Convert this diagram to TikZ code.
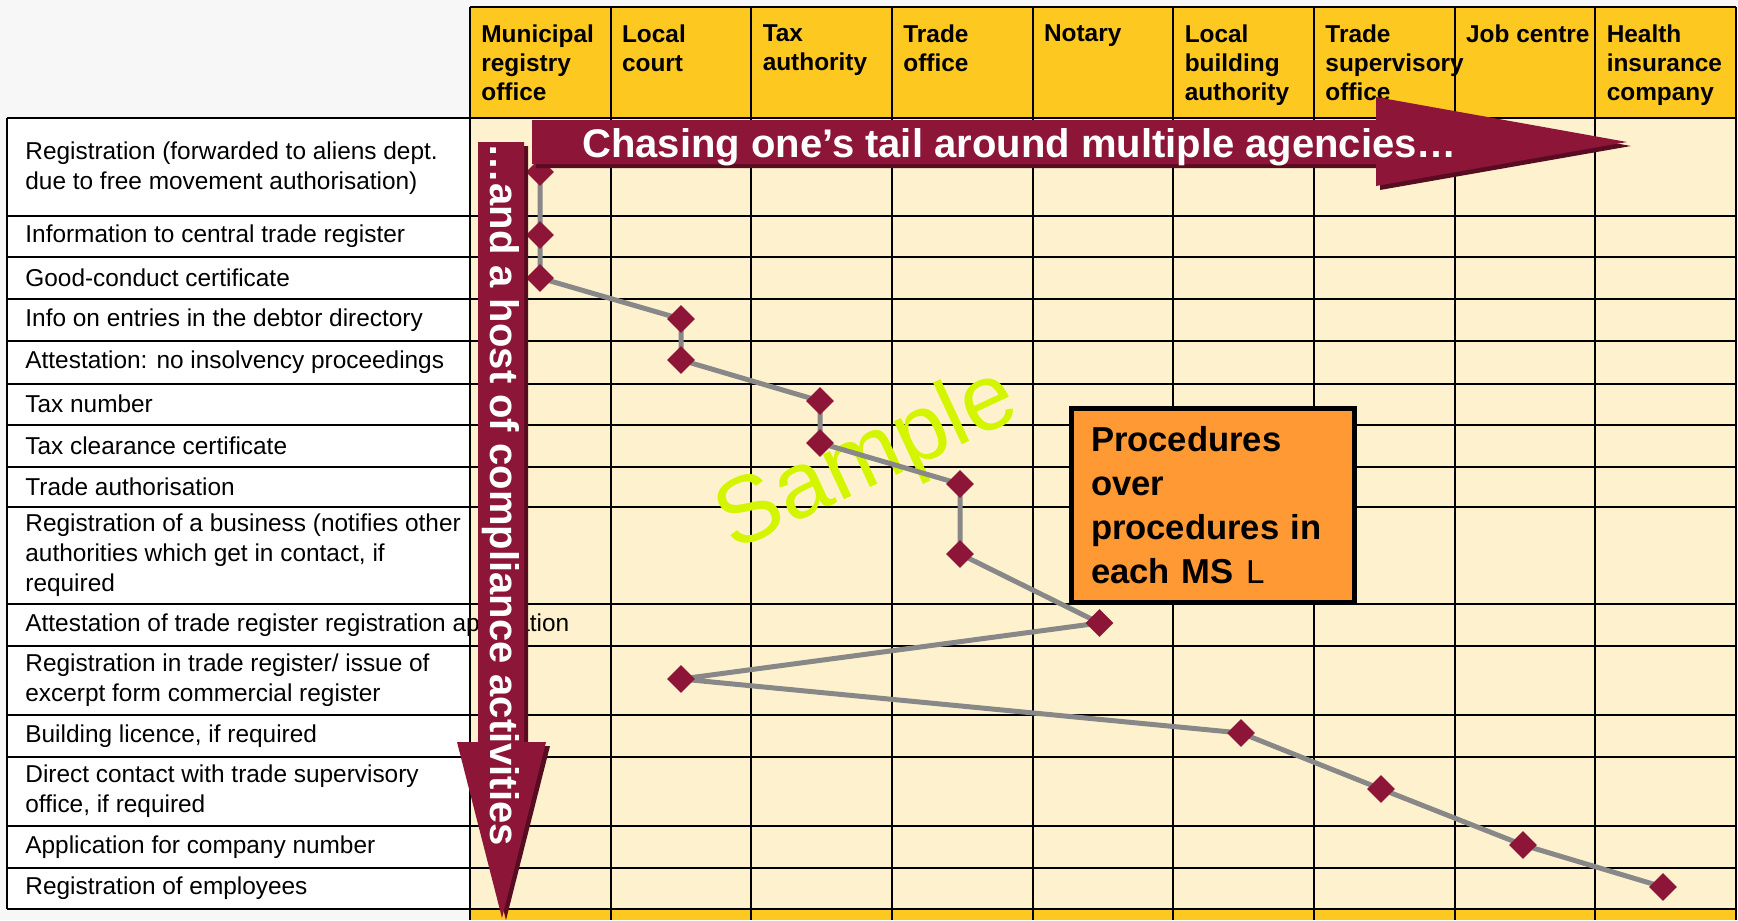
\documentclass[tikz,border=0pt]{standalone}
\usepackage{fontspec}
\setmainfont{Liberation Sans}
\newfontfamily\courierfont{Liberation Mono}
\usetikzlibrary{shapes.geometric}

\definecolor{wine}{RGB}{140,21,56}
\definecolor{wineshade}{RGB}{88,12,34}
\definecolor{headyellow}{RGB}{253,200,32}
\definecolor{gridcream}{RGB}{254,242,206}
\definecolor{linegray}{RGB}{136,136,136}
\definecolor{boxorange}{RGB}{255,153,51}
\definecolor{samplegreen}{RGB}{212,245,0}
\definecolor{pagegray}{RGB}{247,247,247}

\tikzset{
  rowtext/.style={anchor=west, align=left, inner sep=0pt,
    font=\fontsize{12.2}{15}\selectfont},
  headtext/.style={anchor=north west, align=left, inner sep=0pt,
    font=\fontsize{12.2}{14.5}\selectfont\bfseries},
  stepmark/.style={diamond, fill=wine, inner sep=0pt, minimum size=14pt},
  arrowtext/.style={inner sep=0pt, text=white,
    font=\fontsize{20}{22}\selectfont\bfseries},
  rule/.style={black, line width=1pt}
}

\begin{document}
\begin{tikzpicture}[x=0.5pt, y=-0.5pt]
  \useasboundingbox (0,0) rectangle (1738,920);
  \fill[pagegray] (0,0) rectangle (1738,920);

  % table, grid and header
  \fill[white] (7,118) rectangle (470,909);
  \fill[gridcream] (470,118) rectangle (1736,909);
  \fill[headyellow] (470,7) rectangle (1736,118);
  \fill[headyellow] (470,909) rectangle (1736,920);

  \foreach \i/\t in {1/{Municipal\\registry\\office}, 2/{Local\\court},
    3/{Tax\\authority}, 4/{Trade\\office}, 5/{Notary},
    6/{Local\\building\\authority}, 7/{Trade\\supervisory\\office},
    8/{Job centre}, 9/{Health\\insurance\\company}} {%
    \node[headtext] (head\i) at ({470 + 140.67*(\i - 1) + 11},24) {\t};
  }

  \foreach \n/\y/\t in {1/168/{Registration (forwarded to aliens dept.\\due to free movement authorisation)},
    2/236.5/{Information to central trade register},
    3/278/{Good-conduct certificate},
    4/320/{Info on entries in the debtor directory},
    5/362/{Attestation: no insolvency proceedings},
    6/404/{Tax number},
    7/445.5/{Tax clearance certificate},
    8/486.5/{Trade authorisation},
    9/555/{Registration of a business (notifies other\\authorities which get in contact, if\\required},
    10/625/{Attestation of trade register registration application},
    11/680.5/{Registration in trade register/ issue of\\excerpt form commercial register},
    12/736/{Building licence, if required},
    13/791.5/{Direct contact with trade supervisory\\office, if required},
    14/847/{Application for company number},
    15/888.5/{Registration of employees}} {%
    \node[rowtext] (row\n) at (25,\y) {\t};
  }

  \foreach \y in {118,216,257,299,341,383.5,424.5,466.5,506.5,604,646,715,757,826,868,909} {%
    \draw[rule] (7,\y) -- (1736,\y);
  }
  \foreach \i in {0,1,...,9} {%
    \draw[rule] ({470 + 140.67*\i},7) -- ({470 + 140.67*\i},920);
  }
  \draw[rule] (470,7) -- (1736,7);
  \draw[rule] (7,118) -- (7,909);

  \node[rotate=25, inner sep=0pt, text=samplegreen,
    font=\fontsize{47}{50}\selectfont] (sample) at (868,462) {Sample};

  % the steps
  \foreach \n/\x/\y in {1/540/172, 2/540/235, 3/540/278, 4/681/319, 5/681/360,
    6/820/401, 7/820/443, 8/960/484, 9/960/554, 10/1099.5/623, 11/681/679,
    12/1241/733, 13/1381/789, 14/1523/845, 15/1663/887} {%
    \coordinate (p\n) at (\x,\y);
  }
  \draw[linegray, line width=2.5pt, line join=round]
    (p1) -- (p2) -- (p3) -- (p4) -- (p5) -- (p6) -- (p7) -- (p8) -- (p9)
    -- (p10) -- (p11) -- (p12) -- (p13) -- (p14) -- (p15);
  \foreach \n in {1,2,...,15} {%
    \node[stepmark] (d\n) at (p\n) {};
  }

  % the two big arrows
  \fill[wineshade] (536,124) -- (1380,124) -- (1380,101) -- (1631,146)
    -- (1380,190) -- (1380,168) -- (536,168) -- cycle;
  \fill[wine] (532,120) -- (1376,120) -- (1376,97) -- (1627,142)
    -- (1376,186) -- (1376,164) -- (532,164) -- cycle;
  \node[arrowtext, anchor=base west] (chase) at (582,157)
    {Chasing one’s tail around multiple agencies…};

  \fill[wineshade] (482,146) -- (528,146) -- (528,746) -- (550,746)
    -- (506,920) -- (461,746) -- (482,746) -- cycle;
  \fill[wine] (478,142) -- (524,142) -- (524,742) -- (546,742)
    -- (502,918) -- (457,742) -- (478,742) -- cycle;
  \node[arrowtext, rotate=-90, anchor=base west] (host) at (490,143)
    {…and a host of compliance activities};

  \node[draw=black, line width=2.5pt, fill=boxorange, minimum width=141.5pt,
    minimum height=97pt, inner xsep=10pt, text width=121.5pt, align=left,
    font=\fontsize{17.3}{22}\selectfont\bfseries] (note) at (1212.5,505)
    {Procedures\\over\\procedures in\\each MS {\courierfont\mdseries L}};
\end{tikzpicture}
\end{document}
